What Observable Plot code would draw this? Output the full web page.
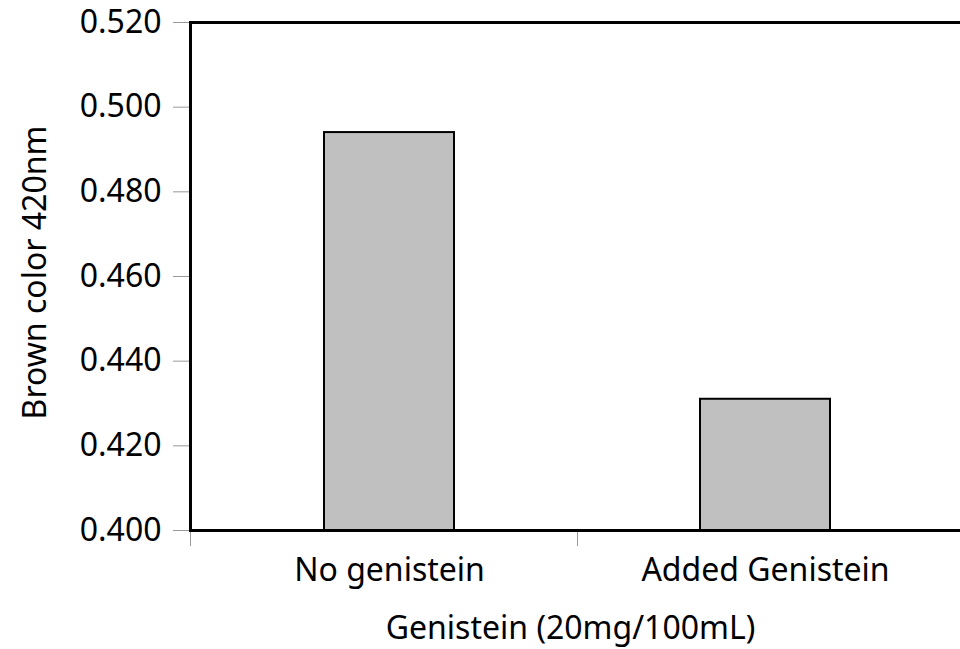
<!DOCTYPE html>
<html><head><meta charset="utf-8">
<script src="https://cdn.jsdelivr.net/npm/d3@7"></script>
<script src="https://cdn.jsdelivr.net/npm/@observablehq/plot@0.6"></script>
<style>body{margin:0;background:#fff;} #chart svg{overflow:hidden;}</style>
</head><body><div id="chart"></div>
<script>
const categories = ["No genistein", "Added Genistein"];
const values = [0.494, 0.431];
const yTicks = [0.40, 0.42, 0.44, 0.46, 0.48, 0.50, 0.52];
const yDomain = [0.40, 0.52];
const xLabel = "Genistein (20mg/100mL)";
const yLabel = "Brown color 420nm";

const W = 960, H = 649, mL = 190, mR = -10, mT = 22, mB = 119;
const insL = 11, insR = 17;
const bw = (W - mR - mL - insL - insR) / categories.length;
const barInset = (bw - 130) / 2;
const data = categories.map((c, i) => ({category: c, value: values[i]}));
const font = "'Noto Sans', 'Open Sans', sans-serif";
const fs = 32;

const chart = Plot.plot({
  width: W, height: H,
  marginLeft: mL, marginRight: mR, marginTop: mT, marginBottom: mB,
  style: {fontFamily: font, fontSize: fs + "px", color: "#000", background: "#fff", overflow: "hidden"},
  x: {domain: categories, padding: 0, insetLeft: insL, insetRight: insR},
  y: {domain: yDomain},
  marks: [
    Plot.barY(data, {x: "category", y1: () => yDomain[0], y2: "value", fill: "#c0c0c0", stroke: "#000", strokeWidth: 2, insetLeft: barInset, insetRight: barInset}),
    Plot.axisY({ticks: yTicks, tickFormat: d3.format(".3f"), tickSize: 17, tickPadding: 12, stroke: "#999", fill: "#000", fontSize: fs, label: null}),
    Plot.axisX({tickSize: 0, tickPadding: 28, fill: "#000", fontSize: fs, label: null}),
    Plot.axisX({ticks: categories.slice(1), tickSize: 16, text: null, stroke: "#999", dx: -bw / 2, label: null}),
    Plot.axisX({ticks: categories.slice(0, 1), tickSize: 16, text: null, stroke: "#999", dx: -bw / 2 - insL, label: null}),
    Plot.frame({stroke: "#000", strokeWidth: 3}),
    Plot.text([xLabel], {frameAnchor: "bottom", dy: 108, dx: -10, fontSize: fs, fill: "#000"}),
    Plot.text([yLabel], {frameAnchor: "left", textAnchor: "middle", rotate: -90, dx: -155, dy: -4, fontSize: fs, fill: "#000"})
  ]
});
document.getElementById("chart").appendChild(chart);
</script>
</body></html>
